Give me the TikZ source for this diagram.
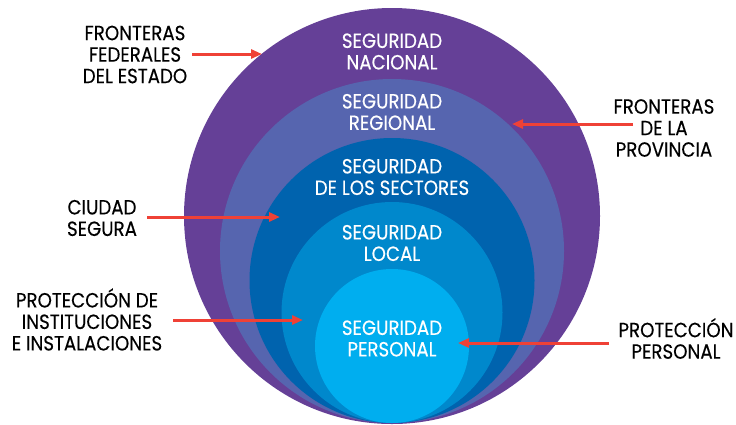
\documentclass[tikz,border=0pt]{standalone}
\usepackage{fontspec}
\setmainfont[FakeStretch=0.89,FakeBold=0.3]{Poppins}
\usetikzlibrary{arrows.meta}
\definecolor{cpurple}{RGB}{101,64,151}
\definecolor{cslate}{RGB}{86,101,175}
\definecolor{cdark}{RGB}{0,99,174}
\definecolor{cmed}{RGB}{0,136,204}
\definecolor{ccyan}{RGB}{0,174,239}
\definecolor{cred}{RGB}{239,65,54}
\begin{document}
\begin{tikzpicture}[x=1bp,y=-1bp,
  ring/.style={circle, inner sep=0pt, minimum size=#1, draw=none},
  lab/.style={align=center, inner sep=0pt, font=\fontsize{20.5bp}{21.5bp}\selectfont},
  inlab/.style={lab, text=white},
  outlab/.style={lab, text=black},
  arr/.style={draw=cred, line width=3bp, -{Triangle[length=11bp,width=9bp]}}]
\useasboundingbox (0,0) rectangle (736,424);
% rings
\node[ring=416bp, fill=cpurple] (c1) at (392,216) {};
\node[ring=344bp, fill=cslate]  (c2) at (392,251) {};
\node[ring=285bp, fill=cdark]   (c3) at (392,280.5) {};
\node[ring=221bp, fill=cmed]    (c4) at (392,312.5) {};
\node[ring=154bp, fill=ccyan]   (c5) at (392,346) {};
% ring texts
\node[inlab] (t1) at (392,51.5) {SEGURIDAD\\NACIONAL};
\node[inlab] (t2) at (392,112) {SEGURIDAD\\REGIONAL};
\node[inlab] (t3) at (392,177) {SEGURIDAD\\DE LOS SECTORES};
\node[inlab] (t4) at (392,243) {SEGURIDAD\\LOCAL};
\node[inlab] (t5) at (392,338.5) {SEGURIDAD\\PERSONAL};
% outer labels
\node[outlab] (l1) at (135,54.5) {FRONTERAS\\FEDERALES\\DEL ESTADO};
\node[outlab] (l2) at (664,128) {FRONTERAS\\DE LA\\PROVINCIA};
\node[outlab] (l3) at (102,218) {CIUDAD\\SEGURA};
\node[outlab] (l4) at (87,319.5) {PROTECCIÓN DE\\INSTITUCIONES\\E INSTALACIONES};
\node[outlab] (l5) at (676,338.5) {PROTECCIÓN\\PERSONAL};
% arrow ends
\coordinate (s1) at (192,54);  \coordinate (e1) at (262,54);
\coordinate (s2) at (633,124); \coordinate (e2) at (512,124);
\coordinate (s3) at (147,217); \coordinate (e3) at (280,217);
\coordinate (s4) at (173,320); \coordinate (e4) at (303,320);
\coordinate (s5) at (609,343); \coordinate (e5) at (458,343);
\draw[arr] (s1) -- (e1);
\draw[arr] (s2) -- (e2);
\draw[arr] (s3) -- (e3);
\draw[arr] (s4) -- (e4);
\draw[arr] (s5) -- (e5);
\end{tikzpicture}
\end{document}
